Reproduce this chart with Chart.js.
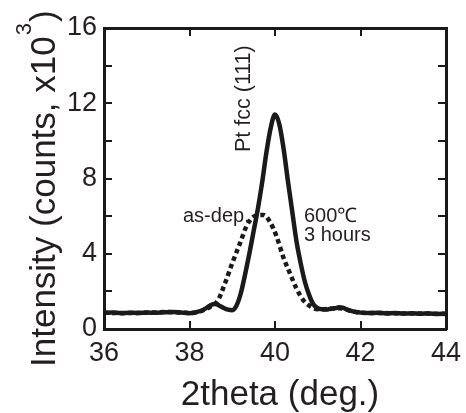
<!DOCTYPE html>
<html>
<head>
<meta charset="utf-8">
<script src="https://cdn.jsdelivr.net/npm/chart.js@4.4.1/dist/chart.umd.min.js"></script>
<style>
  html, body { margin: 0; padding: 0; background: #fff; }
  #wrap { width: 466px; height: 413px; }
</style>
</head>
<body>
<div id="wrap"><canvas id="c" width="466" height="413"></canvas></div>
<script>
// ---- data ----
const xTicks = [36, 38, 40, 42, 44];
const yTickLabels = [0, 4, 8, 12, 16];

// 600 °C, 3 hours (solid)
const annealedX = [36.0, 36.2, 36.4, 36.6, 36.8, 37.0, 37.2, 37.4, 37.6, 37.8, 38.0, 38.1, 38.2, 38.3, 38.4, 38.5, 38.6, 38.7, 38.8, 38.9,
  39.0, 39.1, 39.2, 39.3, 39.4, 39.5, 39.6, 39.7, 39.8, 39.9, 40.0, 40.1, 40.2, 40.3, 40.4, 40.5, 40.6, 40.7, 40.8, 40.9,
  41.0, 41.1, 41.2, 41.3, 41.4, 41.5, 41.6, 41.7, 41.8, 41.9, 42.0, 42.2, 42.4, 42.6, 42.8, 43.0, 43.2, 43.4, 43.6, 43.8, 44.0];
const annealedY = [0.86, 0.88, 0.84, 0.87, 0.85, 0.88, 0.86, 0.89, 0.91, 0.88, 0.84, 0.86, 0.92, 1.0, 1.12, 1.28, 1.33, 1.24, 1.12, 1.03,
  1.0, 1.25, 1.9, 2.9, 4.0, 5.2, 6.4, 7.8, 9.4, 10.7, 11.4, 10.9, 9.6, 7.9, 6.3, 4.7, 3.5, 2.5, 1.8, 1.3,
  1.1, 1.05, 1.03, 1.08, 1.1, 1.15, 1.12, 1.02, 0.95, 0.9, 0.87, 0.85, 0.86, 0.83, 0.85, 0.82, 0.84, 0.81, 0.83, 0.80, 0.81];

// as-deposited (dotted)
const asDepX = [36.0, 36.5, 37.0, 37.5, 38.0, 38.3, 38.5, 38.67, 38.83, 39.0, 39.18, 39.34, 39.49, 39.6, 39.73, 39.88,
  40.04, 40.19, 40.35, 40.5, 40.66, 40.82, 41.0, 41.5, 42.0, 42.5, 43.0, 43.5, 44.0];
const asDepY = [0.86, 0.85, 0.87, 0.9, 0.85, 0.98, 1.2, 1.54, 2.43, 3.5, 4.55, 5.5, 5.95, 6.05, 6.06, 5.7,
  4.9, 3.84, 2.96, 2.16, 1.54, 1.22, 1.05, 1.1, 0.86, 0.85, 0.82, 0.82, 0.8];

const INK = '#1a1a1a';
const TEXT = '#231f20';
const FONT = '"Liberation Sans", Arial, Helvetica, sans-serif';

function pts(xs, ys) { return xs.map((x, i) => ({ x: x, y: ys[i] })); }

const labelsPlugin = {
  id: 'labels',
  afterDraw(chart) {
    const ctx = chart.ctx;
    ctx.save();
    ctx.fillStyle = TEXT;
    ctx.textBaseline = 'alphabetic';
    ctx.textAlign = 'left';

    // y axis title with superscript
    ctx.save();
    ctx.translate(55, 367);
    ctx.rotate(-Math.PI / 2);
    ctx.font = '35px ' + FONT;
    const main = 'Intensity (counts, x10';
    const w1 = ctx.measureText(main).width;
    ctx.fillText(main, 0, 0);
    ctx.font = '22px ' + FONT;
    ctx.fillText('3', w1 + 1, -24);
    const w2 = ctx.measureText('3').width;
    ctx.font = '35px ' + FONT;
    ctx.fillText(')', w1 + w2 + 2, 0);
    ctx.restore();

    // x axis title
    ctx.font = '35px ' + FONT;
    ctx.textAlign = 'center';
    ctx.fillText('2theta (deg.)', 280, 405);

    // peak annotation
    ctx.save();
    ctx.translate(250, 152);
    ctx.rotate(-Math.PI / 2);
    ctx.textAlign = 'left';
    ctx.font = '21.5px ' + FONT;
    ctx.fillText('Pt fcc (111)', 0, 0);
    ctx.restore();

    ctx.textAlign = 'left';
    ctx.font = '20px ' + FONT;
    ctx.fillText('as-dep.', 183, 222);
    ctx.fillText('600\u2103', 304, 222);
    ctx.fillText('3 hours', 304, 241);
    ctx.restore();
  }
};

function axisCommon(extra) {
  return Object.assign({
    type: 'linear',
    border: { display: true, color: INK, width: 3 },
    grid: { drawOnChartArea: false, drawTicks: true, tickLength: -8, color: INK, lineWidth: 2 },
  }, extra);
}

new Chart(document.getElementById('c'), {
  type: 'line',
  data: {
    datasets: [
      {
        label: '600\u2103 3 hours',
        data: pts(annealedX, annealedY),
        borderColor: INK,
        borderWidth: 4.5,
        pointRadius: 0,
        fill: false,
        cubicInterpolationMode: 'monotone',
        borderJoinStyle: 'round',
        borderCapStyle: 'round'
      },
      {
        label: 'as-dep.',
        data: pts(asDepX, asDepY),
        borderColor: INK,
        borderWidth: 4.5,
        borderDash: [4.5, 3.5],
        pointRadius: 0,
        fill: false,
        cubicInterpolationMode: 'monotone'
      }
    ]
  },
  options: {
    responsive: false,
    animation: false,
    devicePixelRatio: 1,
    layout: { padding: { left: 0, right: 20, top: 28, bottom: 0 } },
    plugins: { legend: { display: false }, tooltip: { enabled: false } },
    scales: {
      x: axisCommon({
        position: 'bottom', min: xTicks[0], max: xTicks[xTicks.length - 1],
        ticks: { stepSize: 2, color: TEXT, font: { family: FONT, size: 27 }, padding: 16, maxRotation: 0 },
        afterFit(s) { s.height = 84; s.paddingRight = 0; s.paddingLeft = 0; }
      }),
      x2: axisCommon({
        position: 'top', min: xTicks[0], max: xTicks[xTicks.length - 1],
        ticks: { stepSize: 2, display: false },
        afterFit(s) { s.height = 0; s.paddingRight = 0; s.paddingLeft = 0; }
      }),
      y: axisCommon({
        position: 'left', min: yTickLabels[0], max: yTickLabels[yTickLabels.length - 1],
        ticks: {
          stepSize: 2, color: TEXT, font: { family: FONT, size: 27 }, padding: 15,
          callback: (v) => (yTickLabels.includes(v) ? String(v) : '')
        },
        afterFit(s) { s.width = 104; s.paddingTop = 0; s.paddingBottom = 0; }
      }),
      y2: axisCommon({
        position: 'right', min: yTickLabels[0], max: yTickLabels[yTickLabels.length - 1],
        ticks: { stepSize: 2, display: false },
        afterFit(s) { s.width = 0; s.paddingTop = 0; s.paddingBottom = 0; }
      })
    }
  },
  plugins: [labelsPlugin]
});
</script>
</body>
</html>
